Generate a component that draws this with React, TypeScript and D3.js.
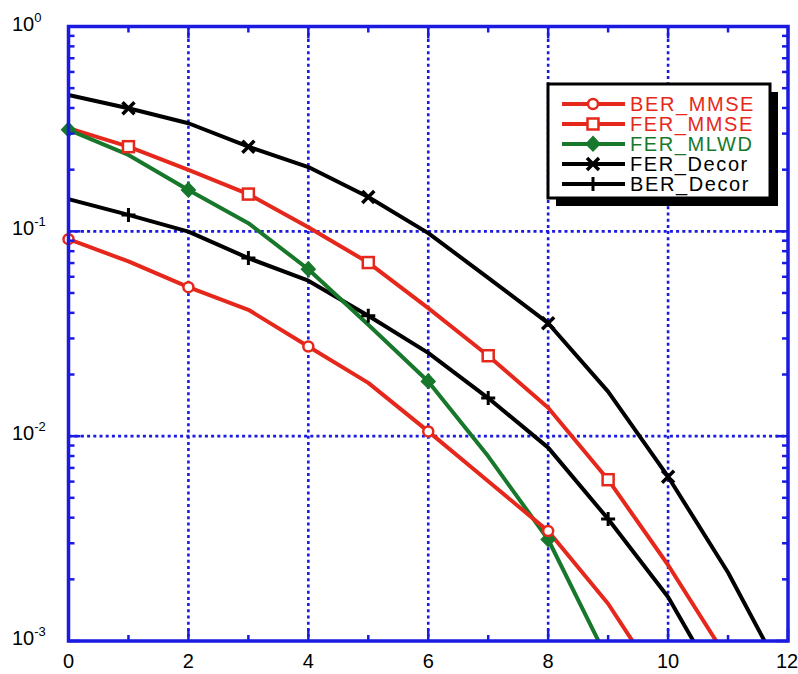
import React, { useEffect } from 'react';
import * as d3 from 'd3';

// ---- data (x = SNR index 0..n) ----
const xTicksMajor = [0, 2, 4, 6, 8, 10, 12];
const xTicksMinor = [1, 3, 5, 7, 9, 11];
const yDecades = [1, 0.1, 0.01, 0.001];
const yDecadeExp = ['0', '-1', '-2', '-3'];

const berMmse = [0.0916, 0.0713, 0.0534, 0.0414, 0.0274, 0.0182, 0.01055, 0.00602, 0.00344, 0.00152, 0.000542];
const ferMmse = [0.319, 0.259, 0.1995, 0.152, 0.1046, 0.0704, 0.0422, 0.0247, 0.01377, 0.00613, 0.00235, 0.00081];
const ferMlwd = [0.313, 0.236, 0.159, 0.1096, 0.0653, 0.035, 0.0185, 0.00797, 0.00313, 0.000804];
const ferDecor = [0.463, 0.399, 0.337, 0.259, 0.206, 0.147, 0.098, 0.0593, 0.0356, 0.0165, 0.00634, 0.00216, 0.00061];
const berDecor = [0.1436, 0.1203, 0.0997, 0.074, 0.0574, 0.0387, 0.0255, 0.01535, 0.00879, 0.00394, 0.00164, 0.000507];

const berMmseMarks = [0, 2, 4, 6, 8];
const ferMmseMarks = [1, 3, 5, 7, 9];
const ferMlwdMarks = [0, 2, 4, 6, 8];
const ferDecorMarks = [1, 3, 5, 8, 10];
const berDecorMarks = [1, 3, 5, 7, 9];

const seriesNames = ['BER_MMSE', 'FER_MMSE', 'FER_MLWD', 'FER_Decor', 'BER_Decor'];

const RED = '#e6281c';
const GREEN = '#17782c';
const BLACK = '#000000';
const BLUE = '#1a1ae0';

const W = 798;
const H = 674;
const L = 68.5, R = 788, T = 26.5, B = 641;

const x = d3.scaleLinear().domain([0, 12]).range([L, R]);
const y = d3.scaleLog().domain([0.001, 1]).range([B, T]);

type Marker = 'circle' | 'square' | 'diamond' | 'x' | 'plus';

function MarkerShape({ type, cx, cy, color }: { type: Marker; cx: number; cy: number; color: string }) {
  switch (type) {
    case 'circle':
      return <circle cx={cx} cy={cy} r={5} fill="white" stroke={color} strokeWidth={2.5} />;
    case 'square':
      return <rect x={cx - 5.5} y={cy - 5.5} width={11} height={11} fill="white" stroke={color} strokeWidth={2.5} />;
    case 'diamond':
      return (
        <path
          d={`M${cx},${cy - 7} L${cx + 6.5},${cy} L${cx},${cy + 6.5} L${cx - 6.5},${cy} Z`}
          fill={color}
          stroke={color}
          strokeWidth={2}
        />
      );
    case 'x':
      return (
        <path
          d={`M${cx - 6},${cy - 6} L${cx + 6},${cy + 6} M${cx - 6},${cy + 6} L${cx + 6},${cy - 6}`}
          stroke={color}
          strokeWidth={3.5}
        />
      );
    case 'plus':
      return (
        <path
          d={`M${cx - 7},${cy} L${cx + 7},${cy} M${cx},${cy - 7} L${cx},${cy + 7}`}
          stroke={color}
          strokeWidth={3}
        />
      );
  }
  return null;
}

const series: { name: string; data: number[]; marks: number[]; color: string; marker: Marker }[] = [
  { name: seriesNames[0], data: berMmse, marks: berMmseMarks, color: RED, marker: 'circle' },
  { name: seriesNames[1], data: ferMmse, marks: ferMmseMarks, color: RED, marker: 'square' },
  { name: seriesNames[2], data: ferMlwd, marks: ferMlwdMarks, color: GREEN, marker: 'diamond' },
  { name: seriesNames[3], data: ferDecor, marks: ferDecorMarks, color: BLACK, marker: 'x' },
  { name: seriesNames[4], data: berDecor, marks: berDecorMarks, color: BLACK, marker: 'plus' },
];

const drawOrder = [3, 4, 1, 2, 0];

export default function App() {
  useEffect(() => {
    document.body.style.margin = '0';
  }, []);

  const line = d3
    .line<number>()
    .x((_, i) => x(i))
    .y((d) => y(d));

  const minorY: number[] = [];
  for (const dec of [0.001, 0.01, 0.1]) {
    for (let k = 2; k <= 9; k++) minorY.push(dec * k);
  }

  const font = '"Liberation Sans", Arial, Helvetica, sans-serif';

  const legX = 548, legY = 84, legW = 222, legH = 114;
  const rowY = [104, 124, 144, 164, 184];

  return (
    <svg width={W} height={H} style={{ display: 'block', background: 'white' }} fontFamily={font}>
      <defs>
        <clipPath id="plotClip">
          <rect x={L} y={T} width={R - L} height={B - T} />
        </clipPath>
      </defs>
      <rect x={0} y={0} width={W} height={H} fill="white" />

      {/* grid */}
      <g stroke={BLUE} strokeWidth={2.6} strokeDasharray="3,3.2">
        {xTicksMajor.slice(1, -1).map((v) => (
          <line key={'gx' + v} x1={x(v)} x2={x(v)} y1={T} y2={B} />
        ))}
        {yDecades.slice(1, -1).map((v) => (
          <line key={'gy' + v} x1={L} x2={R} y1={y(v)} y2={y(v)} />
        ))}
      </g>

      {/* lines */}
      <g clipPath="url(#plotClip)" fill="none" strokeWidth={4} strokeLinejoin="round">
        {drawOrder.map((si) => {
          const s = series[si];
          return <path key={s.name} d={line(s.data) || ''} stroke={s.color} />;
        })}
      </g>

      {/* markers */}
      <g fill="none">
        {drawOrder.map((si) => {
          const s = series[si];
          return s.marks.map((m) => (
            <MarkerShape key={s.name + m} type={s.marker} cx={x(m)} cy={y(s.data[m])} color={s.color} />
          ));
        })}
      </g>

      {/* axes box and ticks */}
      <g stroke={BLUE}>
        {xTicksMajor.map((v) => (
          <g key={'tx' + v} strokeWidth={2.5}>
            <line x1={x(v)} x2={x(v)} y1={B} y2={B - 12} />
            <line x1={x(v)} x2={x(v)} y1={T} y2={T + 12} />
          </g>
        ))}
        {xTicksMinor.map((v) => (
          <g key={'tmx' + v} strokeWidth={2.5}>
            <line x1={x(v)} x2={x(v)} y1={B} y2={B - 6} />
            <line x1={x(v)} x2={x(v)} y1={T} y2={T + 6} />
          </g>
        ))}
        {yDecades.map((v) => (
          <g key={'ty' + v} strokeWidth={2.5}>
            <line x1={L} x2={L + 12} y1={y(v)} y2={y(v)} />
            <line x1={R} x2={R - 12} y1={y(v)} y2={y(v)} />
          </g>
        ))}
        {minorY.map((v) => (
          <g key={'tmy' + v} strokeWidth={2.5}>
            <line x1={L} x2={L + 6} y1={y(v)} y2={y(v)} />
            <line x1={R} x2={R - 6} y1={y(v)} y2={y(v)} />
          </g>
        ))}
        <rect x={L} y={T} width={R - L} height={B - T} fill="none" strokeWidth={3.5} />
      </g>

      {/* tick labels */}
      <g fill="black">
        {xTicksMajor.map((v) => (
          <text key={'lx' + v} x={v === 12 ? x(v) - 1 : x(v)} y={668} textAnchor="middle" fontSize={20}>
            {v}
          </text>
        ))}
        {yDecades.map((v, i) => (
          <text key={'ly' + v} x={12} y={y(v) + 4} fontSize={20}>
            10
            <tspan fontSize={13} dy={-9}>
              {yDecadeExp[i]}
            </tspan>
          </text>
        ))}
      </g>

      {/* legend */}
      <g>
        <rect x={legX + 8} y={legY + 8} width={legW} height={legH} fill="black" />
        <rect x={legX} y={legY} width={legW} height={legH} fill="white" stroke="black" strokeWidth={3} />
        {series.map((s, i) => (
          <g key={'leg' + s.name}>
            <line x1={562} x2={625} y1={rowY[i]} y2={rowY[i]} stroke={s.color} strokeWidth={4} />
            <MarkerShape type={s.marker} cx={593} cy={rowY[i]} color={s.color} />
            <text x={630} y={rowY[i] + 7} fontSize={20} letterSpacing={1.6} fill={s.color}>
              {s.name}
            </text>
          </g>
        ))}
      </g>
    </svg>
  );
}
